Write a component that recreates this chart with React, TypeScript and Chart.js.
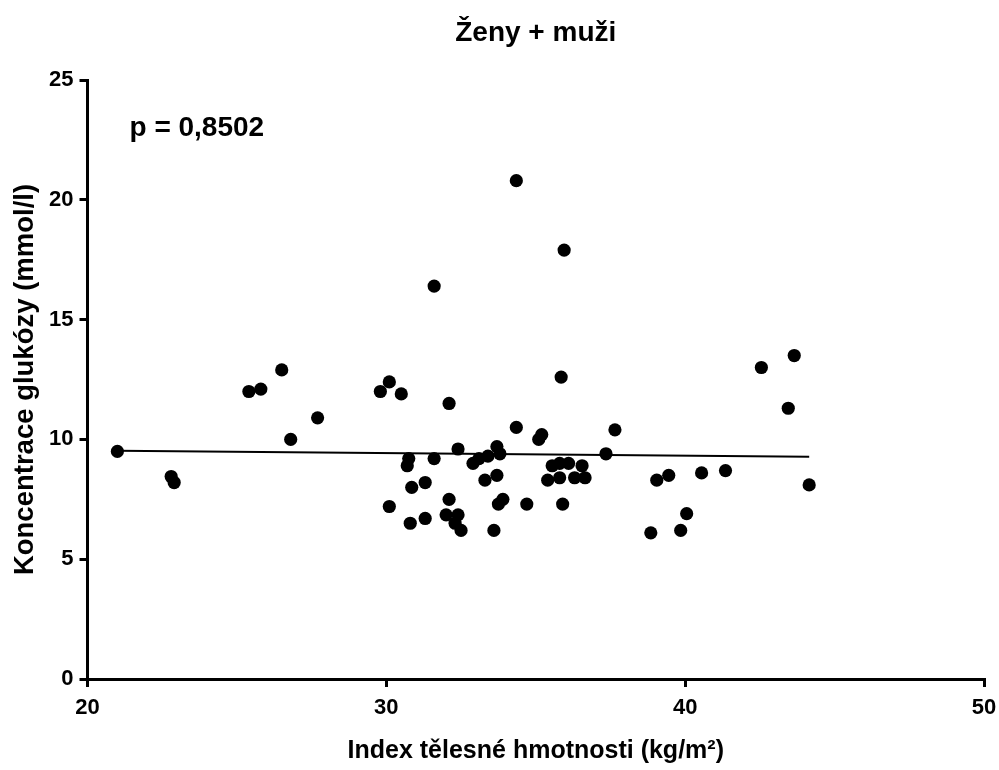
import React, { useEffect, useRef } from "react";
import { Chart, registerables } from "chart.js";

Chart.register(...registerables);

const chartTitle = "Ženy + muži";
const xAxisTitle = "Index tělesné hmotnosti (kg/m²)";
const yAxisTitle = "Koncentrace glukózy (mmol/l)";
const pValueText = "p = 0,8502";

const bmi = [
  21.0, 22.8, 22.9, 25.4, 25.8, 26.5, 26.8, 27.7, 29.8, 30.1, 30.5, 30.1, 30.7,
  30.75, 30.85, 30.8, 31.3, 31.3, 31.6, 31.6, 32.1, 32.1, 32.0, 32.4, 32.4, 32.3,
  32.5, 32.9, 33.1, 33.4, 33.3, 33.7, 33.8, 33.7, 33.9, 33.75, 33.6, 34.35, 34.35,
  34.7, 35.1, 35.2, 35.4, 35.55, 35.8, 35.8, 35.85, 35.9, 35.95, 36.1, 36.3, 36.55,
  36.65, 37.35, 37.65, 38.85, 39.05, 39.45, 39.85, 40.05, 40.55, 41.35, 42.55,
  43.45, 43.65, 44.15,
];
const glucose = [
  9.5, 8.45, 8.2, 12.0, 12.1, 12.9, 10.0, 10.9, 12.0, 12.4, 11.9, 7.2, 8.9,
  9.2, 8.0, 6.5, 8.2, 6.7, 9.2, 16.4, 11.5, 7.5, 6.85, 9.6, 6.85, 6.5,
  6.2, 9.0, 9.2, 9.3, 8.3, 9.7, 9.4, 8.5, 7.5, 7.3, 6.2, 10.5, 20.8,
  7.3, 10.0, 10.2, 8.3, 8.9, 9.0, 8.4, 12.6, 7.3, 17.9, 9.0, 8.4, 8.9,
  8.4, 9.4, 10.4, 6.1, 8.3, 8.5, 6.2, 6.9, 8.6, 8.7, 13.0,
  11.3, 13.5, 8.1,
];

const fitX = [21.0, 44.15];
const fitY = [9.53, 9.28];

const xTicks = [20, 30, 40, 50];
const yTicks = [0, 5, 10, 15, 20, 25];

const fontFamily = "'Liberation Sans', Arial, Helvetica, sans-serif";

const textPlugin = {
  id: "texts",
  afterDraw(chart: any) {
    const { ctx, chartArea } = chart;
    ctx.save();
    ctx.fillStyle = "#000";
    ctx.textBaseline = "alphabetic";
    ctx.font = `bold 28px ${fontFamily}`;
    ctx.textAlign = "center";
    ctx.fillText(chartTitle, (chartArea.left + chartArea.right) / 2, chartArea.top - 39);
    ctx.font = `bold 28px ${fontFamily}`;
    ctx.textAlign = "left";
    ctx.fillText(pValueText, chartArea.left + 42, chartArea.top + 56);
    ctx.restore();
  },
};

export default function App() {
  const ref = useRef<HTMLCanvasElement>(null);

  useEffect(() => {
    if (!ref.current) return;
    const points = bmi.map((x, i) => ({ x, y: glucose[i] }));
    const fit = fitX.map((x, i) => ({ x, y: fitY[i] }));
    const chart = new Chart(ref.current, {
      type: "scatter",
      data: {
        datasets: [
          {
            data: points,
            backgroundColor: "#000",
            borderWidth: 0,
            pointRadius: 6.6,
            showLine: false,
          },
          {
            data: fit,
            showLine: true,
            borderColor: "#000",
            borderWidth: 2,
            pointRadius: 0,
            fill: false,
          },
        ],
      },
      options: {
        responsive: false,
        animation: false,
        layout: { padding: { left: 0, right: 15, top: 80, bottom: 0 } },
        plugins: {
          legend: { display: false },
          tooltip: { enabled: false },
          title: { display: false },
        },
        scales: {
          x: {
            type: "linear",
            min: 20,
            max: 50,
            afterBuildTicks: (s: any) => {
              s.ticks = xTicks.map((v) => ({ value: v }));
            },
            afterFit: (s: any) => {
              s.height = 91;
              s.paddingLeft = 0;
              s.paddingRight = 0;
            },
            border: { display: true, color: "#000", width: 3 },
            grid: {
              display: true,
              drawOnChartArea: false,
              drawTicks: true,
              tickLength: 8,
              color: "#000",
              lineWidth: 3,
            },
            ticks: {
              color: "#000",
              padding: 8,
              maxRotation: 0,
              font: { family: fontFamily, size: 22, weight: "bold" },
            },
            title: {
              display: true,
              text: xAxisTitle,
              color: "#000",
              font: { family: fontFamily, size: 25, weight: "bold", lineHeight: 1.2 },
              padding: { top: 0, bottom: 4 },
            },
          },
          y: {
            type: "linear",
            min: 0,
            max: 25,
            afterBuildTicks: (s: any) => {
              s.ticks = yTicks.map((v) => ({ value: v }));
            },
            afterFit: (s: any) => {
              s.width = 87.5;
              s.paddingTop = 0;
              s.paddingBottom = 0;
            },
            border: { display: true, color: "#000", width: 3 },
            grid: {
              display: true,
              drawOnChartArea: false,
              drawTicks: true,
              tickLength: 8,
              color: "#000",
              lineWidth: 3,
            },
            ticks: {
              color: "#000",
              padding: 6,
              font: { family: fontFamily, size: 22, weight: "bold" },
            },
            title: {
              display: true,
              text: yAxisTitle,
              color: "#000",
              font: { family: fontFamily, size: 27.5, weight: "bold", lineHeight: 1.2 },
              padding: { top: 9, bottom: 0 },
            },
          },
        },
      },
      plugins: [textPlugin],
    });
    return () => chart.destroy();
  }, []);

  return (
    <div style={{ position: "fixed", left: 0, top: 0, width: 999, height: 770, background: "#fff" }}>
      <canvas ref={ref} width={999} height={770} style={{ width: 999, height: 770, display: "block" }} />
    </div>
  );
}
